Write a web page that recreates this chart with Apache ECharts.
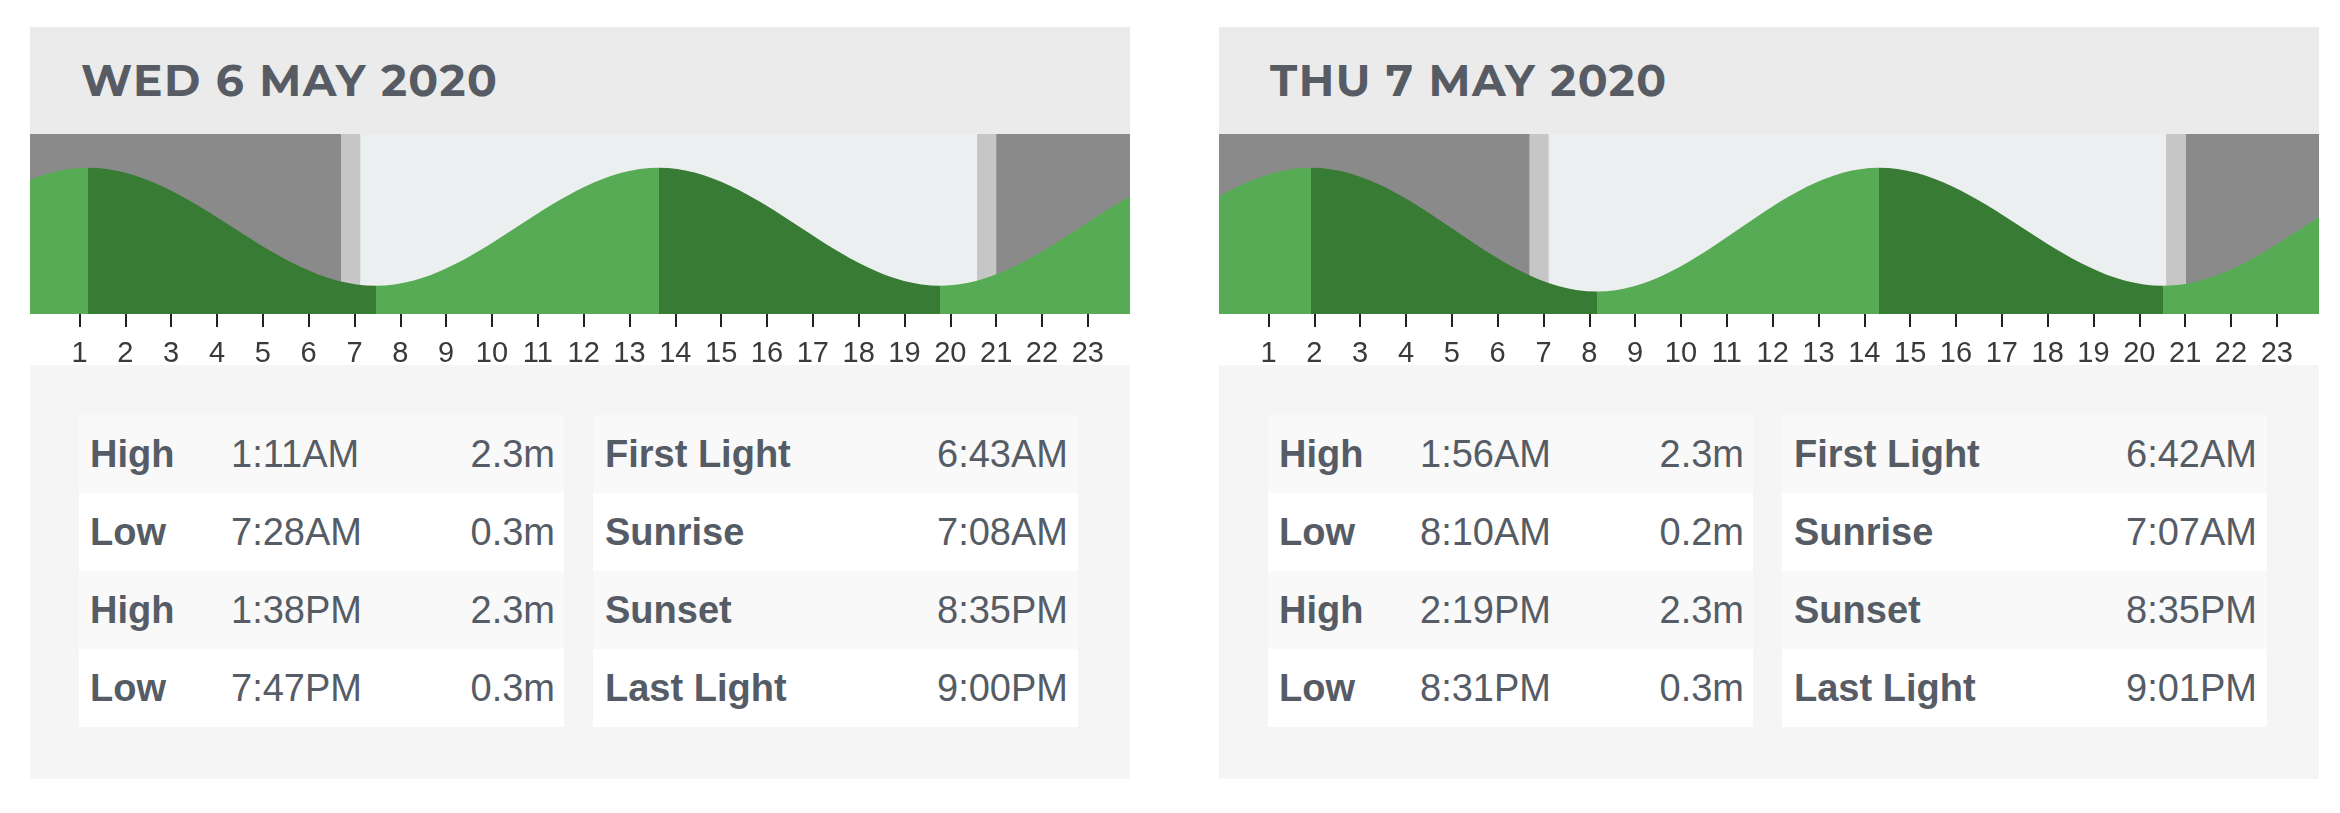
<!DOCTYPE html>
<html>
<head>
<meta charset="utf-8">
<title>Tide times</title>
<script src="https://cdn.jsdelivr.net/npm/echarts@6/dist/echarts.min.js"></script>
<style>
  body { margin: 0; background: #fff; width: 2340px; height: 813px; overflow: hidden; font-family: 'Liberation Sans', Arial, sans-serif; }
  .panel { position: absolute; top: 27px; width: 1100px; height: 752px; background: #fff; }
  .head { position: absolute; left: 0; top: 0; width: 1100px; height: 107px; background: #ebebeb; }
  .head h2 { position: absolute; left: 51px; top: 31px; margin: 0; font: 700 44px/44px Montserrat, 'Open Sans', sans-serif; letter-spacing: 1.5px; color: #575c64; white-space: nowrap; }
  .tblbg { position: absolute; left: 0; top: 338px; width: 1100px; height: 414px; background: #f5f5f5; }
  .chart { position: absolute; left: 0; top: 107px; width: 1100px; height: 262px; }
  .tbl { position: absolute; top: 388px; width: 485px; }
  .row { position: relative; height: 78px; line-height: 78px; font-size: 38px; color: #565c65; }
  .row:nth-child(odd) { background: #f9f9f9; }
  .row:nth-child(even) { background: #fff; }
  .row span { position: absolute; top: 0; white-space: nowrap; }
  .row .lab { font-weight: 700; }
</style>
</head>
<body>
<div class="panel" id="p0" style="left:30px"></div>
<div class="panel" id="p1" style="left:1219px"></div>
<script>
  const days = ['WED 6 MAY 2020', 'THU 7 MAY 2020'];

  // tide turns for each day (times as shown in the table)
  const tideKinds = ['High', 'Low', 'High', 'Low'];
  const wedTideTimes = ['1:11AM', '7:28AM', '1:38PM', '7:47PM'];
  const wedTideHeights = [2.3, 0.3, 2.3, 0.3];
  const thuTideTimes = ['1:56AM', '8:10AM', '2:19PM', '8:31PM'];
  const thuTideHeights = [2.3, 0.2, 2.3, 0.3];

  // turns outside the day, two each side, so the curve runs smoothly off both edges [hour, height]
  const wedBefore = [[-11.1, 2.3], [-4.95, 0.3]];
  const wedAfter = [[25.93, 2.3], [32.17, 0.2]];
  const thuBefore = [[-10.37, 2.3], [-4.22, 0.3]];
  const thuAfter = [[26.67, 2.3], [32.9, 0.2]];

  const lightNames = ['First Light', 'Sunrise', 'Sunset', 'Last Light'];
  const wedLightTimes = ['6:43AM', '7:08AM', '8:35PM', '9:00PM'];
  const thuLightTimes = ['6:42AM', '7:07AM', '8:35PM', '9:01PM'];

  const hourTicks = [1, 2, 3, 4, 5, 6, 7, 8, 9, 10, 11, 12, 13, 14, 15, 16, 17, 18, 19, 20, 21, 22, 23];

  const NIGHT = '#8a8a8a', TWILIGHT = '#c6c6c6', DAY = '#ebeff0';
  const RISING = '#58ab55', FALLING = '#387b34';

  // "1:38PM" -> 13.633
  function toHours(t) {
    const m = t.match(/(\d+):(\d+)(AM|PM)/);
    let h = +m[1] % 12;
    if (m[3] === 'PM') h += 12;
    return h + (+m[2]) / 60;
  }

  function buildPanel(el, title, times, heights, before, after, lightTimes) {
    el.innerHTML = '<div class="head"><h2>' + title + '</h2></div><div class="tblbg"></div>';

    const chartEl = document.createElement('div');
    chartEl.className = 'chart';
    el.appendChild(chartEl);

    const left = document.createElement('div');
    left.className = 'tbl';
    left.style.left = '49px';
    times.forEach((t, i) => {
      left.innerHTML += '<div class="row"><span class="lab" style="left:11px">' + tideKinds[i] +
        '</span><span style="left:152px">' + t + '</span><span style="right:9px">' +
        heights[i].toFixed(1) + 'm</span></div>';
    });
    el.appendChild(left);

    const right = document.createElement('div');
    right.className = 'tbl';
    right.style.left = '563px';
    lightTimes.forEach((t, i) => {
      right.innerHTML += '<div class="row"><span class="lab" style="left:12px">' + lightNames[i] +
        '</span><span style="right:10px">' + t + '</span></div>';
    });
    el.appendChild(right);

    const data = before.slice();
    times.forEach((t, i) => data.push([toHours(t), heights[i]]));
    after.forEach(p => data.push(p));

    // falling tide dark, rising tide light
    const pieces = [];
    for (let i = 0; i < data.length - 1; i++) {
      pieces.push({
        gte: data[i][0], lt: data[i + 1][0],
        color: data[i + 1][1] > data[i][1] ? RISING : FALLING
      });
    }

    const lh = lightTimes.map(toHours);
    const chart = echarts.init(chartEl);
    chart.setOption({
      animation: false,
      grid: { left: 0, right: 0, top: 0, height: 180, containLabel: false, outerBoundsMode: 'none' },
      xAxis: {
        type: 'value', min: -0.08, max: 23.92,
        axisLine: { show: false, onZero: false },
        splitLine: { show: false },
        axisTick: { show: true, customValues: hourTicks, length: 13, lineStyle: { color: '#222', width: 2 } },
        axisLabel: {
          customValues: hourTicks, margin: 25, fontSize: 29, color: '#3a3a3a',
          fontFamily: "'Liberation Sans', Arial, sans-serif"
        }
      },
      yAxis: { type: 'value', min: -0.18, max: 2.87, show: false },
      visualMap: { type: 'piecewise', show: false, dimension: 0, seriesIndex: 1, pieces: pieces },
      series: [
        {
          type: 'line', data: [], z: 1,
          markArea: {
            silent: true,
            data: [
              [{ xAxis: -1, itemStyle: { color: NIGHT } }, { xAxis: lh[0] }],
              [{ xAxis: lh[0], itemStyle: { color: TWILIGHT } }, { xAxis: lh[1] }],
              [{ xAxis: lh[1], itemStyle: { color: DAY } }, { xAxis: lh[2] }],
              [{ xAxis: lh[2], itemStyle: { color: TWILIGHT } }, { xAxis: lh[3] }],
              [{ xAxis: lh[3], itemStyle: { color: NIGHT } }, { xAxis: 25 }]
            ]
          }
        },
        {
          type: 'line', data: data, z: 2,
          smooth: 0.36, smoothMonotone: 'x',
          showSymbol: false,
          lineStyle: { width: 0, opacity: 0 },
          areaStyle: { opacity: 1, origin: 'start' }
        }
      ]
    });
  }

  buildPanel(document.getElementById('p0'), days[0], wedTideTimes, wedTideHeights, wedBefore, wedAfter, wedLightTimes);
  buildPanel(document.getElementById('p1'), days[1], thuTideTimes, thuTideHeights, thuBefore, thuAfter, thuLightTimes);
</script>
</body>
</html>
